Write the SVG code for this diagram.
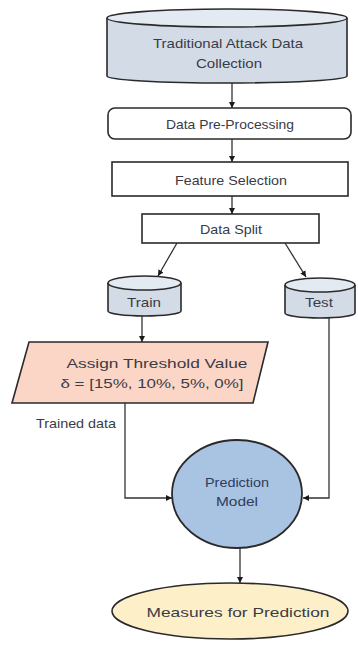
<svg xmlns="http://www.w3.org/2000/svg" width="358" height="648" viewBox="0 0 358 648">
<defs>
<marker id="ah" viewBox="0 0 10 10" refX="10" refY="5" markerWidth="6" markerHeight="6" orient="auto" markerUnits="userSpaceOnUse">
<path d="M0,0 L10,5 L0,10 z" fill="#1a1a1a"/>
</marker>
<style>
.t{font-family:"Liberation Sans","DejaVu Sans",sans-serif;font-size:13px;fill:#3b3b45;text-anchor:middle;dominant-baseline:central}
.cyl{fill:#d3dce6;stroke:#2a2a2a;stroke-width:1.6}
.cyltop{fill:#e4eaf1;stroke:#2a2a2a;stroke-width:1.6}
.box{fill:#ffffff;stroke:#2a2a2a;stroke-width:1.6}
.ln{fill:none;stroke:#333;stroke-width:1.3}
</style>
</defs>
<rect width="358" height="648" fill="#ffffff"/>

<g id="connectors">
<path class="ln" d="M232,83 L232,108" marker-end="url(#ah)"/>
<path class="ln" d="M232,139 L232,162" marker-end="url(#ah)"/>
<path class="ln" d="M232,196 L232,214" marker-end="url(#ah)"/>
<path class="ln" d="M177,243 L158,276" marker-end="url(#ah)"/>
<path class="ln" d="M285,243 L306,277" marker-end="url(#ah)"/>
<path class="ln" d="M142,316 L142,342" marker-end="url(#ah)"/>
<path class="ln" d="M125,403 L125,498 L172,498" marker-end="url(#ah)"/>
<path class="ln" d="M329,318 L329,498 L303,498" marker-end="url(#ah)"/>
<path class="ln" d="M240,548 L240,583" marker-end="url(#ah)"/>
</g>

<g id="collection">
<path class="cyl" d="M107,18 L107,76 A120,7 0 0 0 347,76 L347,18"/>
<ellipse class="cyltop" cx="227" cy="18" rx="120" ry="9"/>
<text class="t" x="228" y="43" textLength="150" lengthAdjust="spacingAndGlyphs">Traditional Attack Data</text>
<text class="t" x="229" y="63" textLength="66" lengthAdjust="spacingAndGlyphs">Collection</text>
</g>

<g id="preprocessing">
<rect class="box" x="108" y="108" width="243" height="31" rx="7"/>
<text class="t" x="230" y="124" textLength="128" lengthAdjust="spacingAndGlyphs">Data Pre-Processing</text>
</g>

<g id="feature">
<rect class="box" x="112" y="162" width="236" height="34"/>
<text class="t" x="231" y="180" textLength="112" lengthAdjust="spacingAndGlyphs">Feature Selection</text>
</g>

<g id="split">
<rect class="box" x="142" y="214" width="177" height="29"/>
<text class="t" x="231" y="229" textLength="62" lengthAdjust="spacingAndGlyphs">Data Split</text>
</g>

<g id="train">
<path class="cyl" d="M108,283 L108,311 A36.5,5 0 0 0 181,311 L181,283"/>
<ellipse class="cyltop" cx="144.5" cy="283" rx="36.5" ry="7"/>
<text class="t" x="144" y="302" textLength="34" lengthAdjust="spacingAndGlyphs">Train</text>
</g>

<g id="test">
<path class="cyl" d="M285,285 L285,313 A35,5 0 0 0 355,313 L355,285"/>
<ellipse class="cyltop" cx="320" cy="285" rx="35" ry="7"/>
<text class="t" x="319" y="302" textLength="28" lengthAdjust="spacingAndGlyphs">Test</text>
</g>

<g id="threshold">
<polygon points="29,342 268,342 253,403 12,403" fill="#fbd6c6" stroke="#2a2a2a" stroke-width="1.6"/>
<text class="t" x="157" y="363" textLength="181" lengthAdjust="spacingAndGlyphs">Assign Threshold Value</text>
<text class="t" x="152" y="383" textLength="183" lengthAdjust="spacingAndGlyphs">δ = [15%, 10%, 5%, 0%]</text>
</g>

<g id="trained-label">
<text class="t" x="76" y="423" textLength="80" lengthAdjust="spacingAndGlyphs">Trained data</text>
</g>

<g id="prediction">
<ellipse cx="237" cy="494" rx="65" ry="54" fill="#a9c3e3" stroke="#2a2a2a" stroke-width="1.8"/>
<text class="t" x="237" y="482" style="fill:#2e3d5c" textLength="64" lengthAdjust="spacingAndGlyphs">Prediction</text>
<text class="t" x="237" y="501" style="fill:#2e3d5c" textLength="42" lengthAdjust="spacingAndGlyphs">Model</text>
</g>

<g id="measures">
<ellipse cx="230" cy="611" rx="118" ry="28" fill="#fdf0c9" stroke="#2a2a2a" stroke-width="1.6"/>
<text class="t" x="238" y="612" textLength="183" lengthAdjust="spacingAndGlyphs">Measures for Prediction</text>
</g>
</svg>
